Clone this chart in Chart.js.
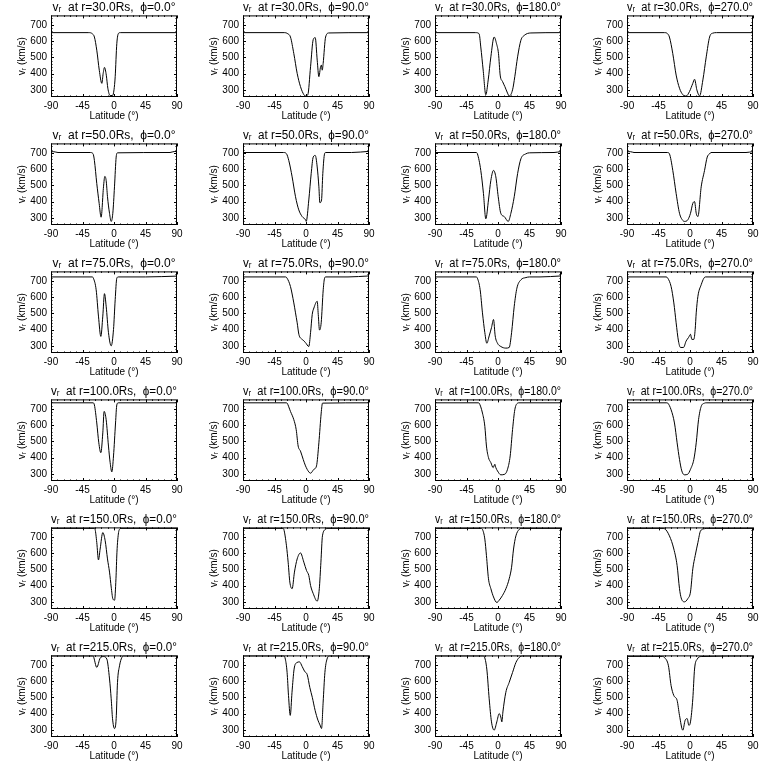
<!DOCTYPE html>
<html>
<head>
<meta charset="utf-8">
<script src="https://cdn.jsdelivr.net/npm/chart.js@4.4.1/dist/chart.umd.min.js"></script>
<style>
  body { margin: 0; background: #fff; }
  #grid { position: relative; width: 768px; height: 768px; background: #fff; }
  #grid canvas { position: absolute; }
</style>
</head>
<body>
<div id="grid"></div>
<script>
const radii = [30, 50, 75, 100, 150, 215];
const phis = [0, 90, 180, 270];
const xTicks = [-90, -45, 0, 45, 90];
const yTicks = [300, 400, 500, 600, 700];

// r = 30 Rs
const lat_30_0 = [-90, -36, -31, -28, -24.6, -21, -17.4, -15.5, -13.6, -11, -8.8, -5.5, -2, 0, 1.7, 4, 6.5, 9, 90];
const v_30_0 = [652, 652, 645, 625, 544, 420, 340, 400, 438, 390, 310, 265, 265, 300, 381, 584, 648, 652, 652];
const lat_30_90 = [-90, -31, -26, -22.2, -17.4, -12.6, -7.9, -3, -0.7, 2.6, 6.5, 10.3, 13.2, 16, 18.4, 20.8, 22, 23.2, 24.5, 28, 32.7, 90];
const v_30_90 = [652, 652, 645, 625, 523, 401, 320, 270, 262, 270, 442, 609, 621, 483, 381, 442, 452, 421, 462, 625, 650, 652];
const lat_30_180 = [-90, -32, -27, -24.6, -21.2, -17.4, -14, -10.2, -5.5, -2.1, 0.7, 3.1, 6.5, 9.8, 13.6, 16, 20.8, 24, 28, 32.7, 37.5, 47, 90];
const v_30_180 = [652, 652, 645, 564, 422, 270, 361, 503, 625, 584, 523, 391, 351, 320, 280, 262, 300, 381, 503, 605, 635, 650, 652];
const lat_30_270 = [-90, -36.5, -32, -29.4, -24.6, -19.8, -15, -10.2, -5.5, -0.7, 4, 6.5, 9.8, 13.7, 18.4, 23.2, 28, 32.7, 38, 90];
const v_30_270 = [652, 652, 645, 625, 523, 391, 310, 270, 262, 290, 340, 365, 300, 263, 361, 503, 625, 649, 652, 652];

// r = 50 Rs
const lat_50_0 = [-90, -86, -80, -34, -30, -28, -24.6, -21.2, -18.4, -15, -13.1, -11.2, -9.3, -6.4, -4, -1.7, 0.7, 3.1, 5, 80, 86, 90];
const v_50_0 = [707, 707, 702, 702, 695, 653, 511, 389, 304, 491, 555, 530, 430, 328, 278, 328, 491, 674, 700, 702, 708, 708];
const lat_50_90 = [-90, -32, -28, -24.6, -19.8, -15, -10.3, -5.5, -0.7, 0.3, 4, 7.4, 10.3, 13.2, 16, 18.4, 19.8, 22.2, 24, 26.5, 28, 65, 90];
const v_50_90 = [702, 702, 695, 653, 552, 430, 349, 308, 288, 278, 410, 572, 674, 684, 613, 491, 393, 410, 572, 694, 702, 702, 709];
const lat_50_180 = [-90, -31, -29.4, -24.6, -20.8, -17.4, -13.6, -10.2, -6.4, -3.1, 0.3, 4, 8.9, 14.6, 18.4, 23.2, 28, 32.7, 39.9, 45, 80, 90];
const v_50_180 = [702, 702, 694, 592, 450, 294, 410, 531, 592, 552, 430, 328, 308, 278, 328, 430, 572, 663, 694, 700, 702, 708];
const lat_50_270 = [-90, -85, -80, -32, -29.4, -24.6, -19.8, -15, -10.3, -7.9, -3.1, 0.7, 4, 6.5, 8.9, 11.3, 16, 20.8, 24.6, 28, 30, 80, 90];
const v_50_270 = [707, 707, 702, 702, 694, 592, 450, 328, 284, 278, 288, 328, 389, 400, 328, 308, 491, 592, 674, 694, 702, 702, 708];

// r = 75 Rs
const lat_75_0 = [-90, -31, -29.4, -25.5, -22.2, -18.8, -16, -13.6, -11.2, -7.9, -4, -0.7, 1.7, 4, 6, 45, 90];
const v_75_0 = [724, 724, 716, 645, 483, 358, 483, 621, 544, 381, 300, 401, 584, 716, 724, 724, 729];
const lat_75_90 = [-90, -29, -27, -22.2, -17.4, -15, -12.6, -10.2, -5.5, -0.7, 4, 6.5, 8.9, 11.3, 16, 17.5, 19.3, 21.7, 24.6, 26.5, 28, 60, 90];
const v_75_90 = [724, 724, 716, 665, 564, 503, 442, 371, 340, 320, 296, 381, 493, 533, 574, 493, 397, 442, 645, 716, 724, 724, 730];
const lat_75_180 = [-90, -31, -29.4, -25.5, -22.2, -18.8, -16, -12.6, -9.3, -6.4, -4, -0.7, 4, 11.2, 16, 19.4, 23.2, 27, 32.7, 39.9, 45, 60, 90];
const v_75_180 = [724, 724, 716, 645, 503, 381, 316, 361, 412, 462, 361, 316, 296, 286, 290, 381, 544, 655, 706, 720, 724, 724, 730];
const lat_75_270 = [-90, -34, -31.7, -27, -23.1, -19.8, -16.5, -13.6, -9.3, -5.5, -2.1, 0.7, 2.6, 5.5, 7.4, 8.9, 11.3, 16, 19.8, 22, 90];
const v_75_270 = [724, 724, 716, 665, 564, 442, 330, 290, 290, 330, 351, 371, 340, 340, 401, 503, 605, 676, 716, 724, 724];

// r = 100 Rs
const lat_100_0 = [-90, -30, -28, -24.6, -21.7, -18.8, -16, -14.1, -11.2, -7.9, -5.5, -3.1, -0.7, 2.2, 4, 6, 90];
const v_100_0 = [737, 737, 724, 613, 491, 430, 552, 684, 633, 471, 369, 312, 410, 613, 724, 737, 737];
const lat_100_90 = [-90, -28, -27, -22.2, -17.4, -14, -11.2, -7.9, -4, -0.7, 4, 6.5, 11.3, 15, 18.4, 21.7, 23.6, 90];
const v_100_90 = [737, 737, 735, 684, 633, 572, 471, 440, 389, 349, 312, 304, 328, 349, 491, 674, 735, 737];
const lat_100_180 = [-90, -28, -27, -22.2, -18.8, -16.5, -13.6, -10.2, -6.9, -4.5, -3.1, -0.7, 4, 9.8, 13.6, 17.4, 20.8, 24, 28, 30, 90];
const v_100_180 = [737, 737, 735, 674, 592, 471, 400, 369, 338, 359, 338, 318, 294, 298, 328, 410, 572, 694, 735, 737, 737];
const lat_100_270 = [-90, -33, -31.7, -27, -22.2, -18.4, -15, -11.7, -7.9, -3.1, 0.7, 5.5, 8.9, 12.2, 16, 20.8, 23, 90];
const v_100_270 = [737, 737, 735, 694, 613, 491, 389, 318, 294, 298, 328, 389, 491, 633, 715, 735, 737, 737];

// r = 150 Rs
const lat_150_0 = [-90, -28, -27, -24.6, -22.2, -19.8, -16, -12.6, -9.3, -6.4, -4, -1.7, 0.8, 2.8, 4.2, 6.5, 8.9, 10, 90];
const v_150_0 = [752, 752, 746, 665, 558, 625, 726, 676, 564, 483, 391, 320, 310, 442, 605, 726, 750, 752, 752];
const lat_150_90 = [-90, -33, -31.7, -27.9, -25.5, -23.1, -19.8, -16.5, -12.6, -7.9, -3.1, 0.7, 4, 6.5, 10.3, 16, 19, 21.3, 23.5, 28, 30, 90];
const v_150_90 = [752, 752, 746, 645, 544, 422, 381, 483, 564, 601, 544, 493, 462, 401, 351, 304, 381, 544, 706, 746, 752, 752];
const lat_150_180 = [-90, -24, -22.2, -18.8, -16.5, -13.6, -10.2, -6.4, -1.7, 1.7, 6.5, 11.3, 16, 19.4, 22.2, 25.6, 30.3, 33, 90];
const v_150_180 = [752, 752, 746, 686, 584, 442, 381, 330, 296, 310, 340, 381, 442, 513, 625, 706, 746, 752, 752];
const lat_150_270 = [-90, -40, -36.5, -29.4, -23.1, -18.4, -15, -12.6, -7.9, -3.1, 0.7, 4, 7.4, 11.3, 15, 20.8, 23, 90];
const v_150_270 = [752, 752, 750, 706, 625, 523, 381, 324, 300, 320, 361, 503, 584, 665, 736, 750, 752, 752];

// r = 215 Rs
const lat_215_0 = [-90, -31, -29.4, -24.6, -19.8, -15, -10.2, -6.4, -4, -2.1, 0.7, 3.1, 5, 7.9, 11.2, 13.6, 90];
const v_215_0 = [755, 755, 751, 684, 741, 751, 735, 613, 491, 369, 308, 369, 592, 694, 745, 755, 755];
const lat_215_90 = [-90, -32, -29.5, -27, -25, -22.5, -20, -17, -13, -9.3, -5.5, -2, 1.7, 5.5, 9, 13, 17, 20, 22.2, 24.5, 27, 30, 34, 90];
const v_215_90 = [755, 755, 735, 653, 511, 389, 531, 674, 714, 718, 690, 660, 640, 560, 500, 420, 360, 330, 308, 471, 653, 735, 755, 755];
const lat_215_180 = [-90, -21, -19.8, -16, -12.6, -9.3, -5.5, -1.7, 1.7, 4, 5.5, 7, 11.2, 16, 20.8, 25.6, 30.3, 35.1, 90];
const v_215_180 = [755, 755, 752, 674, 491, 349, 298, 349, 400, 379, 349, 410, 531, 592, 653, 714, 745, 755, 755];
const lat_215_270 = [-90, -40, -36.5, -30.8, -27, -23.1, -18.4, -15, -10.3, -6.9, -4, -1.7, 0.7, 4, 6.5, 10.3, 16, 90];
const v_215_270 = [752, 752, 745, 694, 572, 511, 481, 389, 298, 359, 369, 328, 349, 491, 674, 735, 751, 755];

// one row per radius, one column per phi
const curves = [
  [[lat_30_0, v_30_0], [lat_30_90, v_30_90], [lat_30_180, v_30_180], [lat_30_270, v_30_270]],
  [[lat_50_0, v_50_0], [lat_50_90, v_50_90], [lat_50_180, v_50_180], [lat_50_270, v_50_270]],
  [[lat_75_0, v_75_0], [lat_75_90, v_75_90], [lat_75_180, v_75_180], [lat_75_270, v_75_270]],
  [[lat_100_0, v_100_0], [lat_100_90, v_100_90], [lat_100_180, v_100_180], [lat_100_270, v_100_270]],
  [[lat_150_0, v_150_0], [lat_150_90, v_150_90], [lat_150_180, v_150_180], [lat_150_270, v_150_270]],
  [[lat_215_0, v_215_0], [lat_215_90, v_215_90], [lat_215_180, v_215_180], [lat_215_270, v_215_270]]
];

const PANEL_W = 192, PANEL_H = 128;
const FONT = "'Liberation Sans', 'DejaVu Sans', sans-serif";

// IDL style box with inward major and minor ticks on all four sides
const boxTicks = {
  id: 'boxTicks',
  afterDraw(chart) {
    const { ctx, chartArea: a, scales: { x, y } } = chart;
    ctx.save();
    ctx.strokeStyle = '#000';
    ctx.lineWidth = 1;
    ctx.strokeRect(a.left + 0.5, a.top + 0.5, a.right - a.left - 1, a.bottom - a.top - 1);
    ctx.beginPath();
    for (let t = -90; t <= 90; t += 9) {
      const px = Math.round(x.getPixelForValue(t)) + 0.5;
      const len = xTicks.includes(t) ? 3 : 1.5;
      ctx.moveTo(px, a.bottom); ctx.lineTo(px, a.bottom - len);
      ctx.moveTo(px, a.top); ctx.lineTo(px, a.top + len);
    }
    for (let t = 260; t <= 750; t += 20) {
      const py = Math.round(y.getPixelForValue(t)) + 0.5;
      const len = yTicks.includes(t) ? 3 : 1.5;
      ctx.moveTo(a.left, py); ctx.lineTo(a.left + len, py);
      ctx.moveTo(a.right, py); ctx.lineTo(a.right - len, py);
    }
    ctx.stroke();
    ctx.restore();
  }
};

const grid = document.getElementById('grid');

radii.forEach((r, row) => {
  phis.forEach((phi, col) => {
    const [lat, v] = curves[row][col];
    const canvas = document.createElement('canvas');
    canvas.width = PANEL_W;
    canvas.height = PANEL_H;
    canvas.style.left = (col * PANEL_W) + 'px';
    canvas.style.top = (row * PANEL_H) + 'px';
    canvas.style.width = PANEL_W + 'px';
    canvas.style.height = PANEL_H + 'px';
    grid.appendChild(canvas);

    new Chart(canvas.getContext('2d'), {
      type: 'line',
      data: {
        datasets: [{
          data: lat.map((la, i) => ({ x: la, y: v[i] })),
          borderColor: '#000',
          borderWidth: 1,
          pointRadius: 0,
          cubicInterpolationMode: 'monotone',
          fill: false
        }]
      },
      options: {
        responsive: false,
        animation: false,
        devicePixelRatio: 1,
        layout: { padding: { left: 0, right: 15, top: 0, bottom: 0 } },
        plugins: {
          legend: { display: false },
          tooltip: { enabled: false },
          title: {
            display: true,
            fullSize: false,
            text: `vᵣ  at r=${r}.0Rs,  ϕ=${phi}.0°`,
            color: '#000',
            font: { family: FONT, size: 12, weight: 'normal' },
            padding: { top: 0, bottom: 1 }
          }
        },
        scales: {
          x: {
            type: 'linear',
            min: -90,
            max: 90,
            afterBuildTicks: s => { s.ticks = xTicks.map(t => ({ value: t })); },
            afterFit: s => { s.height = 31; },
            grid: { display: false, drawTicks: false },
            border: { display: false },
            ticks: { color: '#000', font: { family: FONT, size: 10 }, padding: 3, maxRotation: 0, autoSkip: false },
            title: {
              display: true,
              text: 'Latitude (°)',
              color: '#000',
              font: { family: FONT, size: 10 },
              padding: { top: 0, bottom: 6 }
            }
          },
          y: {
            type: 'linear',
            min: 256,
            max: 758,
            afterBuildTicks: s => { s.ticks = yTicks.map(t => ({ value: t })); },
            afterFit: s => { s.width = 51; },
            grid: { display: false, drawTicks: false },
            border: { display: false },
            ticks: { color: '#000', font: { family: FONT, size: 10 }, padding: 4 },
            title: {
              display: true,
              text: 'vᵣ (km/s)',
              color: '#000',
              font: { family: FONT, size: 10 },
              padding: { top: 16, bottom: 0 }
            }
          }
        }
      },
      plugins: [boxTicks]
    });
  });
});
</script>
</body>
</html>
